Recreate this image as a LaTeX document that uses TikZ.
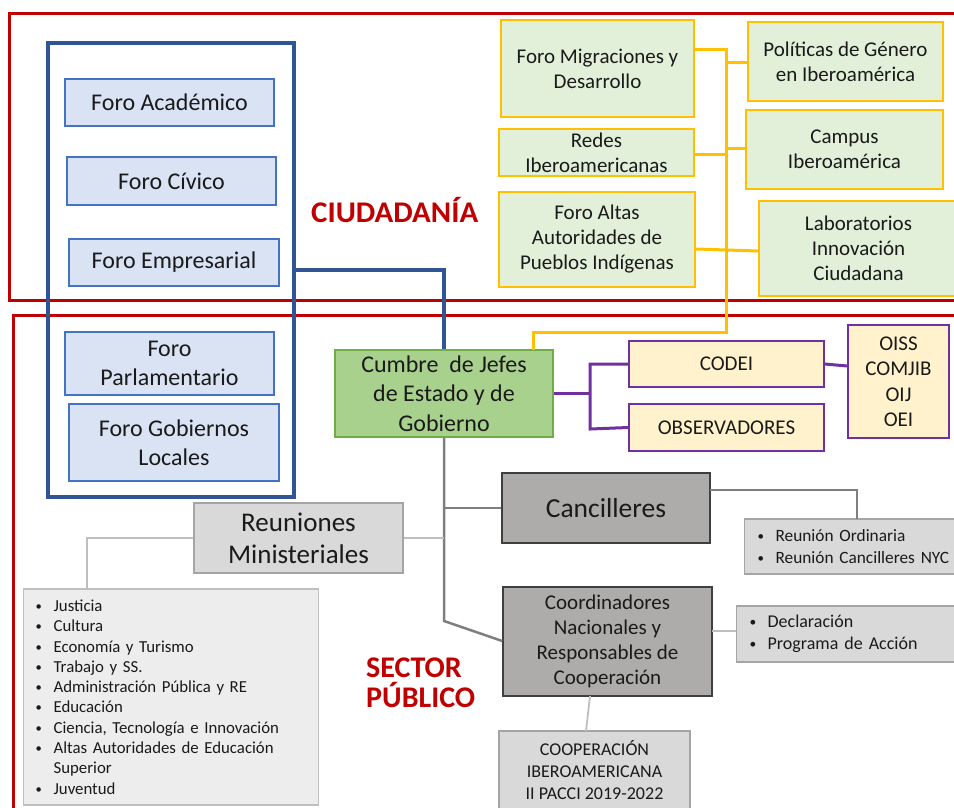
\documentclass[tikz,border=0pt]{standalone}
\usepackage{fontspec}
\setmainfont{Carlito}
\definecolor{redc}{HTML}{C00000}
\definecolor{bluefr}{HTML}{2F5597}
\definecolor{bluebd}{HTML}{4472C4}
\definecolor{bluefl}{HTML}{DAE3F3}
\definecolor{yel}{HTML}{FFC000}
\definecolor{yfill}{HTML}{E2F0D9}
\definecolor{cumfill}{HTML}{A9D18E}
\definecolor{cumbd}{HTML}{70AD47}
\definecolor{purp}{HTML}{7030A0}
\definecolor{pfill}{HTML}{FFF2CC}
\definecolor{dgline}{HTML}{7F7F7F}
\definecolor{cancfill}{HTML}{AEABAB}
\definecolor{cancbd}{HTML}{3F3F3F}
\definecolor{lgfill}{HTML}{D9D9D9}
\definecolor{lgbd}{HTML}{A5A5A5}
\definecolor{lsfill}{HTML}{EDEDED}
\definecolor{lsbd}{HTML}{BFBFBF}
\definecolor{txt}{HTML}{1A1A1A}
\newcommand\lbul{\makebox[18pt][l]{\raisebox{0.12ex}{\scalebox{0.75}{\textbullet}}}}
\tikzset{
  redframe/.style={draw=redc, line width=3pt},
  bluefrm/.style={draw=bluefr, line width=3.5pt, inner sep=0pt},
  bluebox/.style={draw=bluebd, fill=bluefl, line width=1.5pt, inner sep=0pt, align=center, text=txt, font=\fontsize{24}{29}\selectfont},
  yelbox/.style={draw=yel, fill=yfill, line width=2pt, inner sep=0pt, align=center, text=txt, font=\fontsize{21}{25}\selectfont},
  cumbox/.style={draw=cumbd, fill=cumfill, line width=1.5pt, inner sep=0pt, align=center, text=txt, font=\fontsize{24}{29.5}\selectfont},
  purbox/.style={draw=purp, fill=pfill, line width=1.5pt, inner sep=0pt, align=center, text=txt, font=\fontsize{21}{25.5}\selectfont},
  cancbox/.style={draw=cancbd, fill=cancfill, line width=1.5pt, inner sep=0pt, align=center, text=txt},
  lgbox/.style={draw=lgbd, fill=lgfill, line width=1.2pt, inner sep=0pt, align=center, text=txt},
  lsbox/.style={draw=lsbd, fill=lsfill, line width=1.2pt, inner ysep=0pt, align=left, text=txt},
  yline/.style={draw=yel, line width=3pt},
  bline/.style={draw=bluefr, line width=3.5pt},
  pline/.style={draw=purp, line width=3pt},
  gline/.style={draw=dgline, line width=2.5pt},
  lgline/.style={draw=lsbd, line width=2.5pt},
  thline/.style={draw=lsbd, line width=1.8pt},
  titlered/.style={text=redc, font=\fontsize{30}{30}\selectfont\bfseries, inner sep=0pt},
}
\begin{document}
\begin{tikzpicture}[x=1pt,y=-1pt]
\useasboundingbox (0,0) rectangle (954,807);
\clip (0,0) rectangle (954,807);

% red frames
\draw[redframe] (9,13) rectangle (1000,300);
\draw[redframe] (13,315) rectangle (1000,900);

% blue frame and forums
\node[bluefrm, minimum width=246pt, minimum height=454pt] (blue) at (171,270) {};
\node[bluebox, minimum width=209pt, minimum height=47pt] (acad) at (169.5,102.5) {Foro Académico};
\node[bluebox, minimum width=209pt, minimum height=48pt] (civ) at (171.5,181) {Foro Cívico};
\node[bluebox, minimum width=210pt, minimum height=47pt] (emp) at (174,262.5) {Foro Empresarial};
\node[bluebox, minimum width=209pt, minimum height=63pt] (parl) at (169.5,363.5) {Foro\\Parlamentario};
\node[bluebox, minimum width=210pt, minimum height=77pt] (gob) at (174,442.5) {Foro Gobiernos\\Locales};

% titles
\node[titlered, anchor=base west, xscale=1.03] (ciud) at (311,222) {CIUDADANÍA};
\node[titlered, anchor=north west, align=left] (sector) at (366,658) {SECTOR\\PÚBLICO};

% yellow boxes
\node[yelbox, minimum width=193pt, minimum height=97pt] (mig) at (597.5,68.5) {Foro Migraciones y\\Desarrollo};
\node[yelbox, minimum width=195pt, minimum height=47pt] (redes) at (596.5,152.5) {Redes\\Iberoamericanas};
\node[yelbox, minimum width=196pt, minimum height=95pt] (altas) at (597,239.5) {Foro Altas\\Autoridades de\\Pueblos Indígenas};
\node[yelbox, minimum width=195pt, minimum height=79pt] (gen) at (845.5,61.5) {Políticas de Género\\en Iberoamérica};
\node[yelbox, minimum width=197pt, minimum height=79pt] (campus) at (844.5,149.5) {Campus\\Iberoamérica};
\node[yelbox, minimum width=199pt, minimum height=95pt, text width=195pt] (lab) at (858.5,248.5) {Laboratorios\\Innovación\\Ciudadana};

% Cumbre
\node[cumbox, minimum width=218pt, minimum height=87pt] (cumbre) at (444,393.5) {Cumbre \ de Jefes\\de Estado y de\\Gobierno};

% purple boxes
\node[purbox, minimum width=195pt, minimum height=46pt] (codei) at (726.5,364) {CODEI};
\node[purbox, minimum width=195pt, minimum height=47pt] (obs) at (726.5,427.5) {OBSERVADORES};
\node[purbox, minimum width=101pt, minimum height=113pt] (oiss) at (898.5,381.5) {OISS\\COMJIB\\OIJ\\OEI};

% public sector tree
\node[cancbox, minimum width=208pt, minimum height=70pt, font=\fontsize{27.5}{33}\selectfont] (canc) at (606,508) {Cancilleres};
\node[lgbox, minimum width=209pt, minimum height=70pt, font=\fontsize{27}{32}\selectfont] (reun) at (298.5,538) {Reuniones\\Ministeriales};
\node[cancbox, minimum width=209pt, minimum height=109pt, font=\fontsize{21}{25}\selectfont] (coord) at (607.5,641.5) {Coordinadores\\Nacionales y\\Responsables de\\Cooperación};
\node[lgbox, minimum width=191pt, minimum height=78pt, font=\fontsize{18}{21.7}\selectfont] (coop) at (594.5,770) {COOPERACIÓN\\IBEROAMERICANA\\II PACCI 2019-2022};

\node[lsbox, anchor=west, inner xsep=12pt, text width=271pt, minimum height=216pt, font=\fontsize{16.8}{20.3}\selectfont] (list) at (23,697)
 {\lbul Justicia\\\lbul Cultura\\\lbul Economía y Turismo\\\lbul Trabajo y SS.\\\lbul Administración Pública y RE\\\lbul Educación\\\lbul Ciencia, Tecnología e Innovación\\\lbul Altas Autoridades de Educación\\\hspace*{18pt}Superior\\\lbul Juventud};
\node[lgbox, anchor=west, align=left, inner xsep=13pt, text width=218pt, minimum height=55pt, font=\fontsize{17.3}{21.5}\selectfont] (rc) at (744,546.5)
 {\lbul Reunión Ordinaria\\\lbul Reunión Cancilleres NYC};
\node[lgbox, anchor=west, align=left, inner xsep=13pt, text width=228pt, minimum height=56pt, font=\fontsize{18}{21.5}\selectfont] (decl) at (736,634)
 {\lbul Declaración\\\lbul Programa de Acción};

% junction coordinates
\coordinate (bj) at (444,270);
\coordinate (yv1) at (726,49);
\coordinate (yv2) at (726,332);
\coordinate (yc) at (533,332);
\coordinate (ycum) at (533,350);
\coordinate (pj) at (590,393);
\coordinate (pjt) at (590,364);
\coordinate (pjb) at (590,429);
\coordinate (gj1) at (444,621);
\coordinate (gj2) at (444,508);
\coordinate (gj3) at (444,538);
\coordinate (lj) at (87,538);
\coordinate (ltop) at (87,589);
\coordinate (cj1) at (710,490);
\coordinate (cj2) at (857,519);
\coordinate (cdr) at (712,631);
\coordinate (cdl) at (736,631);
\coordinate (cdb) at (590,696);
\coordinate (cpt) at (586,731);

% blue connector
\draw[bline] (blue.east) -- (bj) -- (cumbre.north);

% yellow connectors
\draw[yline] (mig.east |- yv1) -- (yv1) -- (yv2) -- (yc) -- (ycum);
\draw[yline] (726,62) -- (gen.west |- 0,62);
\draw[yline] (redes.east |- 0,154) -- (726,154);
\draw[yline] (726,148) -- (campus.west |- 0,148);
\draw[yline] (altas.east |- 0,249) -- (lab.west |- 0,251);

% purple connectors
\draw[pline] (cumbre.east |- pj) -- (pj);
\draw[pline] (codei.west) -- (pjt) -- (pjb) -- (obs.west);
\draw[pline] (codei.east) -- (oiss.west |- 0,366);

% gray connectors
\draw[gline] (cumbre.south) -- (gj1) -- (coord.west |- 0,641);
\draw[gline] (gj2) -- (canc.west);
\draw[gline] (cj1) -| (cj2);
\draw[lgline] (reun.east) -- (gj3);
\draw[lgline] (reun.west) -- (lj) -- (ltop);
\draw[thline] (cdr) -- (cdl);
\draw[thline] (cdb) -- (cpt);
\end{tikzpicture}
\end{document}
